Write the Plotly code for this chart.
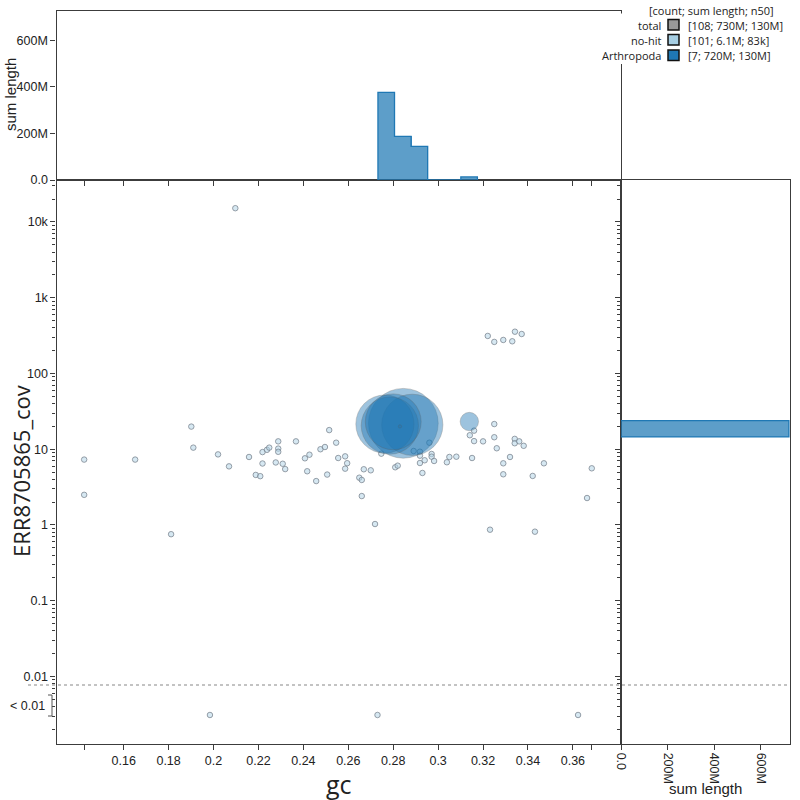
import numpy as np
import plotly.graph_objects as go

# ---------------- data ----------------
nohit_gc = [0.1424, 0.1424, 0.1651, 0.1811, 0.1901, 0.1910, 0.2020, 0.2069, 0.2158, 0.2188,
            0.2208, 0.2218, 0.2218, 0.2238, 0.2248, 0.2288, 0.2288, 0.2288, 0.2277, 0.2308,
            0.2319, 0.2367, 0.2407, 0.2427, 0.2417, 0.2457, 0.2476, 0.2496, 0.2515, 0.2506,
            0.2546, 0.2555, 0.2586, 0.2586, 0.2595, 0.2669, 0.2700, 0.2649, 0.2660, 0.2660,
            0.2719, 0.2747, 0.2809, 0.2820, 0.2891, 0.2919, 0.2919, 0.2919, 0.2930, 0.2940,
            0.2961, 0.2971, 0.2971, 0.2982, 0.3039, 0.3050, 0.3081, 0.3141, 0.3160, 0.3160,
            0.3151, 0.3200, 0.3231, 0.3250, 0.3250, 0.3261, 0.3290, 0.3290, 0.3320, 0.3341,
            0.3341, 0.3361, 0.3381, 0.3421, 0.3431, 0.3471, 0.3663, 0.3684,
            0.2097, 0.3221, 0.3250, 0.3290, 0.3330, 0.3342, 0.3372,
            0.1984, 0.2730, 0.3623]
nohit_cov = [7.30, 2.50, 7.30, 0.756, 19.9, 10.5, 8.55, 5.94, 7.90, 4.58,
             4.41, 9.17, 6.48, 9.83, 10.5, 12.7, 10.2, 9.25, 6.69, 6.43,
             5.47, 12.7, 7.59, 8.47, 5.12, 3.80, 10.0, 10.7, 17.9, 4.63,
             12.2, 7.66, 8.05, 5.54, 6.54, 5.44, 5.27, 4.21, 3.93, 2.41,
             1.03, 8.74, 5.78, 6.07, 9.48, 9.28, 8.22, 6.58, 4.86, 7.15,
             12.2, 8.66, 7.97, 7.00, 6.73, 7.90, 7.97, 15.3, 17.6, 12.8,
             7.66, 12.7, 0.867, 21.5, 14.4, 10.3, 6.52, 4.67, 7.90, 13.7,
             12.0, 12.7, 11.1, 4.44, 0.816, 6.52, 2.27, 5.60,
             15200, 313, 261, 277, 266, 356, 332,
             0, 0, 0]

arth_gc = [0.2763, 0.2785, 0.2800, 0.2830, 0.2845, 0.2885, 0.3139]
arth_cov = [21.5, 20.5, 23.0, 20.0, 22.0, 21.0, 23.2]
arth_len = [130e6, 126e6, 120e6, 0.4e6, 187e6, 144e6, 13e6]

legend_names = ["total", "no-hit", "Arthropoda"]
legend_stats = ["[108; 730M; 130M]", "[101; 6.1M; 83k]", "[7; 720M; 130M]"]
legend_colors = ["#999999", "#a6cee3", "#1f78b4"]

x_tick_vals = [0.1424, 0.16, 0.18, 0.20, 0.22, 0.24, 0.26, 0.28, 0.30, 0.32, 0.34, 0.36, 0.3684]
x_tick_text = ["", "0.16", "0.18", "0.2", "0.22", "0.24", "0.26", "0.28", "0.3", "0.32", "0.34", "0.36", ""]
y_tick_vals = [0.01, 0.1, 1, 10, 100, 1000, 10000]
y_tick_text = ["0.01", "0.1", "1", "10", "100", "1k", "10k"]
len_tick_vals = [0, 2e8, 4e8, 6e8]
len_tick_text = ["0.0", "200M", "400M", "600M"]

# ---------------- config ----------------
W = H = 800
GC_BIN_W = 0.00738
GC_EDGES = 0.1256 + GC_BIN_W * np.arange(0, 40)
LC_BIN_W = 0.215
LC_EDGES = -2.923 + LC_BIN_W * np.arange(0, 36)
ZERO_LOG = -2.508
X_RANGE = [0.13008, 0.38142]
Y_LOG_RANGE = [-2.891, 4.554]
LEN_MAX = 725e6
K_PX = 2.55  # radius px per sqrt(Mb)
SIZEREF = 1e6 / (2 * K_PX ** 2)

def px(x):
    return x / W

def py(y):
    return 1 - y / H

XD = [px(56.5), px(621)]
XR = [px(621), px(790)]
YD = [py(744), py(180)]
YT = [py(180), py(11)]

LINE = "#3c3c3c"
TICKFONT = dict(family="Liberation Sans, Arial", size=12.5, color="#222")
FILL = "rgba(31,120,180,0.72)"
EDGE = "#1f78b4"

fig = go.Figure()

# no-hit points
nh_y = [c if c > 0 else 10 ** ZERO_LOG for c in nohit_cov]
fig.add_trace(go.Scatter(
    x=nohit_gc, y=nh_y, mode="markers", xaxis="x", yaxis="y",
    marker=dict(size=5.5, color="rgba(180,214,232,0.55)",
                line=dict(color="rgba(120,130,140,0.75)", width=1)),
    showlegend=False, hoverinfo="skip"))

# Arthropoda circles (largest first)
order = np.argsort(arth_len)[::-1]
fig.add_trace(go.Scatter(
    x=[arth_gc[i] for i in order], y=[arth_cov[i] for i in order],
    mode="markers", xaxis="x", yaxis="y",
    marker=dict(size=[arth_len[i] for i in order], sizemode="area", sizeref=SIZEREF,
                color="rgba(31,120,180,0.62)",
                line=dict(color="rgba(90,90,90,0.4)", width=1)),
    showlegend=False, hoverinfo="skip"))


def step_outline(edges, sums):
    nz = np.nonzero(sums)[0]
    a, b = nz[0], nz[-1]
    xs, ys = [edges[a]], [0.0]
    for i in range(a, b + 1):
        xs += [edges[i], edges[i + 1]]
        ys += [sums[i], sums[i]]
    xs.append(edges[b + 1])
    ys.append(0.0)
    return xs, ys

# top histogram (sum length per gc bin)
top_sum, _ = np.histogram(arth_gc, bins=GC_EDGES, weights=arth_len)
centers = (GC_EDGES[:-1] + GC_EDGES[1:]) / 2
m = top_sum > 0
fig.add_trace(go.Bar(
    x=centers[m], y=top_sum[m], width=GC_BIN_W, xaxis="x2", yaxis="y2",
    marker=dict(color=FILL, line=dict(width=0)),
    showlegend=False, hoverinfo="skip"))
sx, sy = step_outline(GC_EDGES, top_sum)
fig.add_trace(go.Scatter(x=sx, y=sy, mode="lines", xaxis="x2", yaxis="y2",
                         line=dict(color=EDGE, width=1.3), showlegend=False, hoverinfo="skip"))

# right histogram (sum length per log cov bin)
r_sum, _ = np.histogram(np.log10(arth_cov), bins=LC_EDGES, weights=arth_len)
rc = (LC_EDGES[:-1] + LC_EDGES[1:]) / 2
m2 = r_sum > 0
fig.add_trace(go.Bar(
    y=rc[m2], x=r_sum[m2], width=LC_BIN_W, orientation="h", xaxis="x3", yaxis="y3",
    marker=dict(color=FILL, line=dict(width=0)),
    showlegend=False, hoverinfo="skip"))
ry_, rx_ = step_outline(LC_EDGES, r_sum)
fig.add_trace(go.Scatter(x=rx_, y=ry_, mode="lines", xaxis="x3", yaxis="y3",
                         line=dict(color=EDGE, width=1.3), showlegend=False, hoverinfo="skip"))

minor_vals = [m_ * 10.0 ** e for e in range(-3, 5) for m_ in range(2, 10)
              if Y_LOG_RANGE[0] < np.log10(m_ * 10.0 ** e) < Y_LOG_RANGE[1]]

axis_common = dict(showline=True, linecolor=LINE, linewidth=1.3, mirror=True,
                   showgrid=False, zeroline=False, ticks="outside", ticklen=5,
                   tickcolor=LINE, tickwidth=1, tickfont=TICKFONT, automargin=False)

fig.update_layout(
    template="none",
    width=W, height=H, margin=dict(l=0, r=0, t=0, b=0, pad=0),
    paper_bgcolor="white", plot_bgcolor="rgba(0,0,0,0)", bargap=0,
    xaxis=dict(domain=XD, range=X_RANGE, anchor="y", tickmode="array",
               tickvals=x_tick_vals, ticktext=x_tick_text, **axis_common),
    yaxis=dict(domain=YD, type="log", range=Y_LOG_RANGE, anchor="x", tickmode="array",
               tickvals=y_tick_vals, ticktext=y_tick_text,
               minor=dict(tickmode="array", tickvals=minor_vals, ticks="outside",
                          ticklen=3, tickcolor=LINE),
               **axis_common),
    xaxis2=dict(domain=XD, range=X_RANGE, anchor="y2", tickmode="array",
                tickvals=x_tick_vals, showticklabels=False, **axis_common),
    yaxis2=dict(domain=YT, range=[0, LEN_MAX], anchor="x2", tickmode="array",
                tickvals=len_tick_vals, ticktext=len_tick_text, **axis_common),
    xaxis3=dict(domain=XR, range=[0, LEN_MAX], anchor="y3", tickmode="array",
                tickvals=len_tick_vals, ticktext=len_tick_text, tickangle=90, **axis_common),
    yaxis3=dict(domain=YD, range=Y_LOG_RANGE, anchor="x3", tickmode="array",
                tickvals=[np.log10(v) for v in y_tick_vals], showticklabels=False,
                minor=dict(tickmode="array", tickvals=[np.log10(v) for v in minor_vals],
                           ticks="outside", ticklen=3, tickcolor=LINE),
                **axis_common),
)

shapes = []
annotations = []
# dashed zero-coverage threshold line
shapes.append(dict(type="line", xref="paper", yref="paper", x0=px(28), x1=px(790),
                   y0=py(685), y1=py(685), line=dict(color="#888", width=1.2, dash="3px,3px")))
# bracket for < 0.01
shapes.append(dict(type="path", xref="paper", yref="paper",
                   path=f"M {px(48)},{py(695)} L {px(52)},{py(695)} L {px(52)},{py(716)} L {px(48)},{py(716)}",
                   line=dict(color="#555", width=1)))
annotations.append(dict(text="< 0.01", x=px(46.5), y=py(705.5), xref="paper", yref="paper",
                        xanchor="right", yanchor="middle", showarrow=False,
                        font=dict(family="Liberation Sans, Arial", size=12.5, color="#222")))

# titles
TITLE_FONT = "Open Sans"
annotations.append(dict(text="gc", x=px(339), y=py(784), xref="paper", yref="paper",
                        xanchor="center", yanchor="middle", showarrow=False,
                        font=dict(family=TITLE_FONT, size=25, color="#222")))
annotations.append(dict(text="ERR8705865_cov", x=px(21), y=py(471), xref="paper", yref="paper",
                        xanchor="center", yanchor="middle", showarrow=False, textangle=-90,
                        font=dict(family=TITLE_FONT, size=22, color="#222")))
annotations.append(dict(text="sum length", x=px(10), y=py(95), xref="paper", yref="paper",
                        xanchor="center", yanchor="middle", showarrow=False, textangle=-90,
                        font=dict(family="Liberation Sans, Arial", size=15, color="#222")))
annotations.append(dict(text="sum length", x=px(705), y=py(788), xref="paper", yref="paper",
                        xanchor="center", yanchor="middle", showarrow=False,
                        font=dict(family="Liberation Sans, Arial", size=15, color="#222")))

# legend
shapes.append(dict(type="rect", xref="paper", yref="paper", x0=px(599), x1=px(800),
                   y0=py(64), y1=py(13.5), fillcolor="white", line=dict(width=0), layer="above"))
LEG_FONT = dict(family="Open Sans", size=11, color="#222")
annotations.append(dict(text="[count; sum length; n50]", x=px(711), y=py(10.5), xref="paper",
                        yref="paper", xanchor="center", yanchor="middle", showarrow=False,
                        font=LEG_FONT))
row_y = [25, 40, 55.5]
for name, stat, col, ry in zip(legend_names, legend_stats, legend_colors, row_y):
    annotations.append(dict(text=name, x=px(663), y=py(ry), xref="paper", yref="paper",
                            xanchor="right", yanchor="middle", showarrow=False, font=LEG_FONT))
    annotations.append(dict(text=stat, x=px(686), y=py(ry), xref="paper", yref="paper",
                            xanchor="left", yanchor="middle", showarrow=False, font=LEG_FONT))
    shapes.append(dict(type="rect", xref="paper", yref="paper", x0=px(668), x1=px(679),
                       y0=py(ry + 5), y1=py(ry - 5.5), fillcolor=col,
                       line=dict(color="#111", width=1.5), layer="above"))

fig.update_layout(shapes=shapes, annotations=annotations)
fig.write_html("out.html")
